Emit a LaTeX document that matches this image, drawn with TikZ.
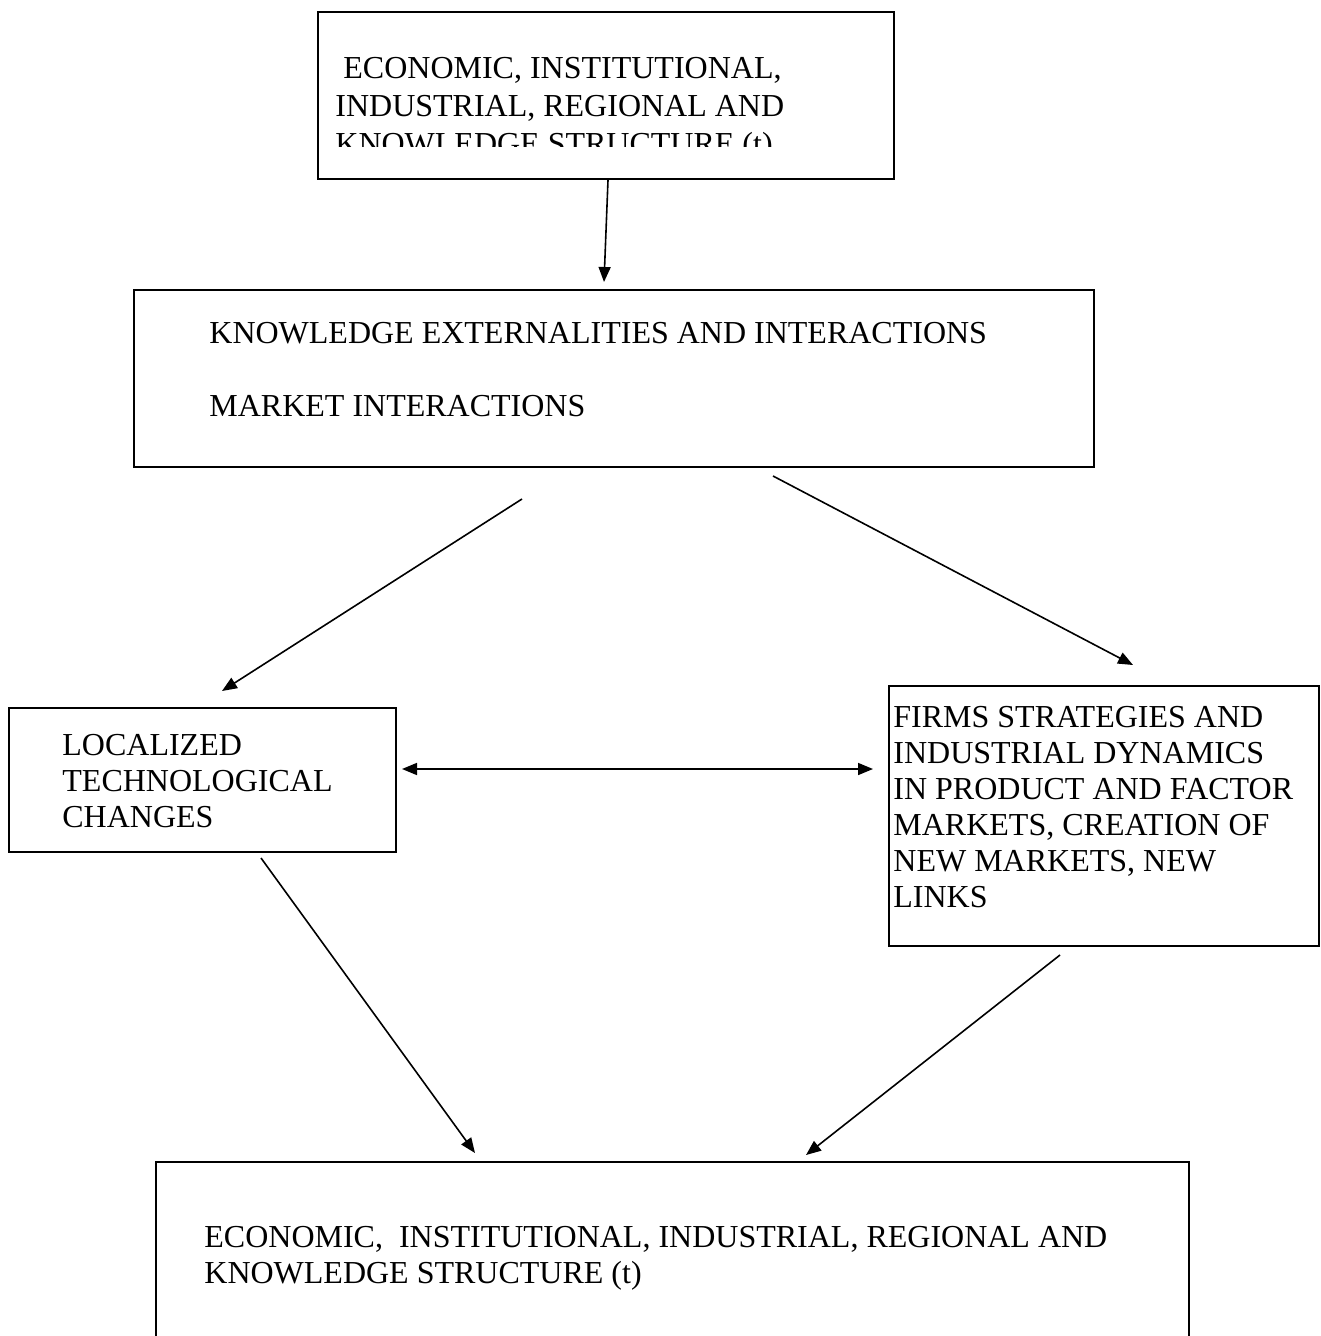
\documentclass[tikz,border=0pt]{standalone}
\usepackage{fontspec}
\setmainfont{Liberation Serif}
\usetikzlibrary{arrows.meta}
\begin{document}
\begin{tikzpicture}[x=0.5pt,y=-0.5pt,
  box/.style={draw=black,line width=1pt,anchor=north west,inner sep=0pt},
  txt/.style={anchor=north west,inner sep=0pt,align=left,font=\fontsize{16pt}{18pt}\selectfont},
  arr/.style={line width=0.8pt,-{Triangle[length=7.5pt,width=6pt]}},
  darr/.style={line width=0.8pt,{Triangle[length=7.5pt,width=6pt]}-{Triangle[length=7.5pt,width=6pt]}}]
\clip (0,0) rectangle (1320,1336);
\useasboundingbox (0,0) rectangle (1320,1336);
\fill[white] (0,0) rectangle (1320,1336);
% boxes
\node[box,minimum width=288pt,minimum height=83.5pt] (top) at (317,11) {};
\node[box,minimum width=480pt,minimum height=88.5pt] (mid) at (133,289) {};
\node[box,minimum width=193.5pt,minimum height=72pt] (left) at (8,707) {};
\node[box,minimum width=215pt,minimum height=130pt] (right) at (888,685) {};
\node[box,minimum width=516.5pt,minimum height=150pt] (bot) at (155,1161) {};
% texts
\begin{scope}
\clip (317,11) rectangle (893,147);
\node[txt,font=\fontsize{16pt}{19pt}\selectfont] (toptxt) at (335,57) {\hspace{4pt}ECONOMIC, INSTITUTIONAL,\\INDUSTRIAL, REGIONAL AND\\KNOWLEDGE STRUCTURE (t)};
\end{scope}
\node[txt,font=\fontsize{16pt}{36.5pt}\selectfont] (midtxt) at (209,322) {KNOWLEDGE EXTERNALITIES AND INTERACTIONS\\MARKET INTERACTIONS};
\node[txt] (lefttxt) at (62,734) {LOCALIZED\\TECHNOLOGICAL\\CHANGES};
\node[txt] (righttxt) at (893,706) {FIRMS STRATEGIES AND\\INDUSTRIAL DYNAMICS\\IN PRODUCT AND FACTOR\\MARKETS, CREATION OF\\NEW MARKETS, NEW\\LINKS};
\begin{scope}
\clip (155,1161) rectangle (1188,1290);
\node[txt] (bottxt) at (204,1226) {ECONOMIC,\ \ INSTITUTIONAL, INDUSTRIAL, REGIONAL AND\\KNOWLEDGE STRUCTURE (t)};
\end{scope}
% connector endpoints
\coordinate (a1s) at (608,180); \coordinate (a1e) at (604,282);
\coordinate (a2s) at (522,499); \coordinate (a2e) at (222,691);
\coordinate (a3s) at (773,476); \coordinate (a3e) at (1133,665);
\coordinate (a4s) at (402,769); \coordinate (a4e) at (873,769);
\coordinate (a5s) at (261,858); \coordinate (a5e) at (475,1153);
\coordinate (a6s) at (1060,955); \coordinate (a6e) at (806,1155);
\draw[arr] (a1s) -- (a1e);
\draw[arr] (a2s) -- (a2e);
\draw[arr] (a3s) -- (a3e);
\draw[darr] (a4s) -- (a4e);
\draw[arr] (a5s) -- (a5e);
\draw[arr] (a6s) -- (a6e);
\end{tikzpicture}
\end{document}
